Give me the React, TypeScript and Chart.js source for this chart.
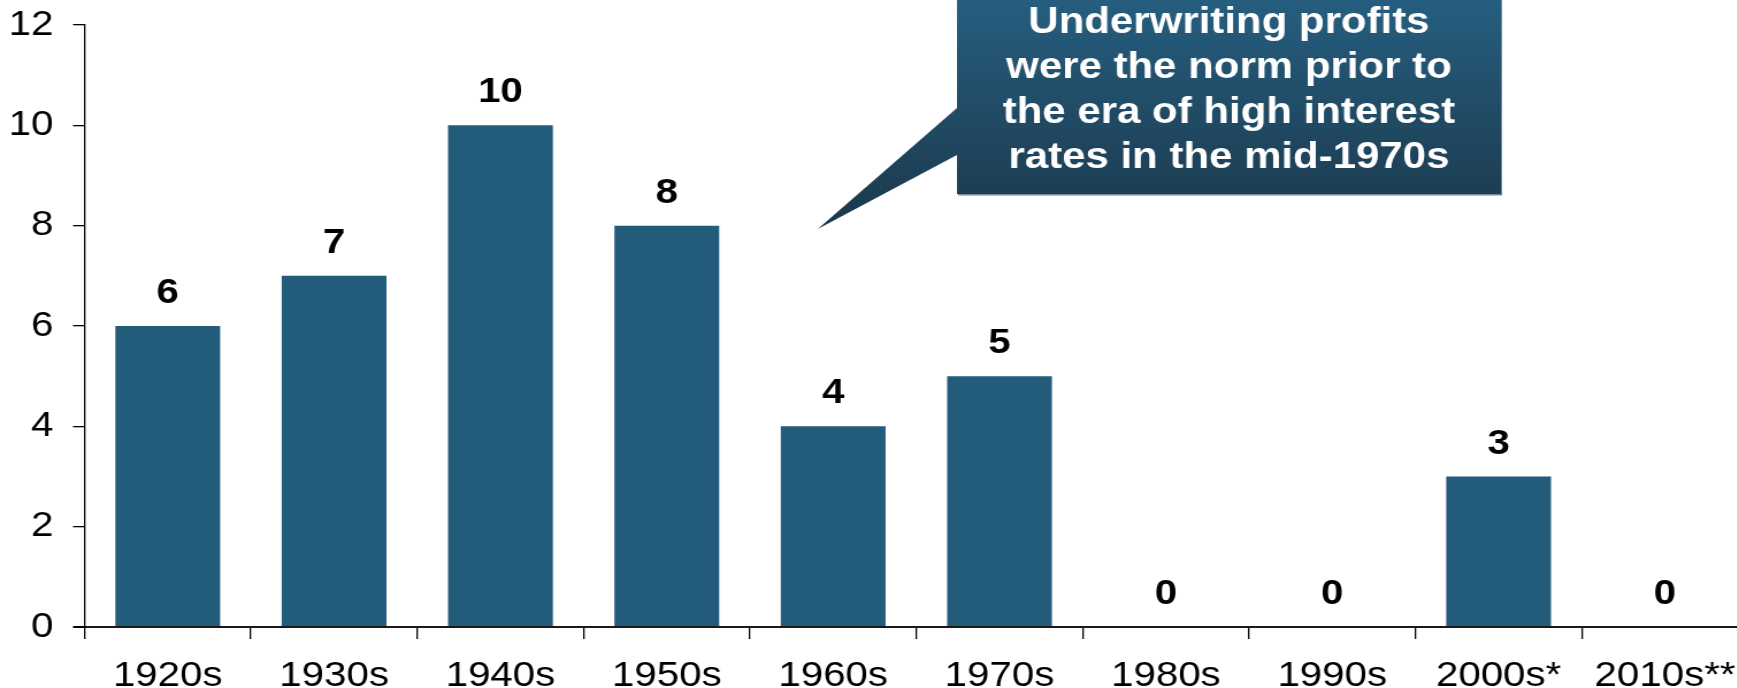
import React, { useEffect, useRef } from "react";
import { Chart, registerables } from "chart.js";

Chart.register(...registerables);

// Decades and the number of years with an underwriting profit in each
const categories = ["1920s", "1930s", "1940s", "1950s", "1960s", "1970s", "1980s", "1990s", "2000s*", "2010s**"];
const profitYears = [6, 7, 10, 8, 4, 5, 0, 0, 3, 0];
const yTickValues = [0, 2, 4, 6, 8, 10, 12];
const calloutLines = [
  "Underwriting profits",
  "were the norm prior to",
  "the era of high interest",
  "rates in the mid-1970s",
];

// The drawing surface is laid out narrower and widened with CSS
const STRETCH = 1.15;
const CANVAS_W = 1525;
const CANVAS_H = 688;
const FONT = '"Liberation Sans", Arial, Helvetica, sans-serif';
const BAR_COLOR = "#235b7a";
const TOP_PAD = 25;
const PLOT_BOTTOM = 627;
const Y_AXIS_WIDTH = 73.5;

// Bold value printed above each bar
const valueLabels = {
  id: "valueLabels",
  afterDatasetsDraw(chart: any) {
    const { ctx } = chart;
    const meta = chart.getDatasetMeta(0);
    const data = chart.data.datasets[0].data as number[];
    ctx.save();
    ctx.font = `bold 35px ${FONT}`;
    ctx.fillStyle = "#000";
    ctx.textAlign = "center";
    ctx.textBaseline = "alphabetic";
    meta.data.forEach((bar: any, i: number) => {
      ctx.fillText(String(data[i]), bar.x, bar.y - 23);
    });
    ctx.restore();
  },
};

// Speech-bubble note pointing at the 1950s/1960s bars
const callout = {
  id: "callout",
  afterDraw(chart: any) {
    const { ctx } = chart;
    const box = { left: 832, right: 1305, top: -4, bottom: 194 };
    const notchTop = 108;
    const notchBottom = 155;
    const tip = { x: 711, y: 229 };

    ctx.save();
    // thin light edge on the right and bottom sides
    ctx.fillStyle = "#6f8a9c";
    ctx.fillRect(box.left + 1, box.top + 1.5, box.right - box.left, box.bottom - box.top);

    const grad = ctx.createLinearGradient(0, 0, 0, tip.y);
    grad.addColorStop(0, "#265e7f");
    grad.addColorStop(1, "#1b384b");
    ctx.beginPath();
    ctx.moveTo(box.left, box.top);
    ctx.lineTo(box.right, box.top);
    ctx.lineTo(box.right, box.bottom);
    ctx.lineTo(box.left, box.bottom);
    ctx.lineTo(box.left, notchBottom);
    ctx.lineTo(tip.x, tip.y);
    ctx.lineTo(box.left, notchTop);
    ctx.closePath();
    ctx.fillStyle = grad;
    ctx.fill();

    ctx.font = `bold 36.5px ${FONT}`;
    ctx.fillStyle = "#ffffff";
    ctx.textAlign = "center";
    ctx.textBaseline = "alphabetic";
    const cx = (box.left + box.right) / 2;
    calloutLines.forEach((line, i) => {
      ctx.fillText(line, cx, 33 + i * 45);
    });
    ctx.restore();
  },
};

export default function App() {
  const canvasRef = useRef<HTMLCanvasElement | null>(null);

  useEffect(() => {
    const canvas = canvasRef.current;
    if (!canvas) return;
    const chart = new Chart(canvas, {
      type: "bar",
      data: {
        labels: categories,
        datasets: [
          {
            data: profitYears,
            backgroundColor: BAR_COLOR,
            borderWidth: 0,
            barPercentage: 0.63,
            categoryPercentage: 1,
          },
        ],
      },
      options: {
        responsive: false,
        animation: false,
        devicePixelRatio: 1,
        layout: { padding: { top: TOP_PAD, right: 2, left: 0, bottom: 0 } },
        plugins: {
          legend: { display: false },
          tooltip: { enabled: false },
        },
        scales: {
          x: {
            type: "category",
            offset: true,
            grid: {
              offset: true,
              drawOnChartArea: false,
              drawTicks: true,
              tickLength: 12,
              color: "#000",
              lineWidth: 1.3,
            },
            border: { display: true, color: "#1a1a1a", width: 2 },
            ticks: {
              color: "#000",
              font: { family: FONT, size: 35 },
              padding: 16,
              maxRotation: 0,
              autoSkip: false,
            },
            afterFit(scale: any) {
              scale.height = CANVAS_H - PLOT_BOTTOM;
            },
          },
          y: {
            min: 0,
            max: 12,
            afterBuildTicks(scale: any) {
              scale.ticks = yTickValues.map((v) => ({ value: v }));
            },
            grid: {
              drawOnChartArea: false,
              tickLength: 10,
              color: "#000",
              lineWidth: (c: any) => (c.tick && c.tick.value === 0 ? 2 : 1.3),
            },
            border: { display: true, color: "#000", width: 1.3 },
            ticks: {
              color: "#000",
              // single-line labels: a small line height keeps the top label from adding extra padding
              font: { family: FONT, size: 35, lineHeight: 0.1 },
              padding: 17,
            },
            afterFit(scale: any) {
              scale.width = Y_AXIS_WIDTH;
            },
          },
        },
      },
      plugins: [valueLabels, callout],
    } as any);
    return () => chart.destroy();
  }, []);

  return (
    <div
      style={{
        position: "fixed",
        left: 0,
        top: 0,
        width: 1737,
        height: 688,
        overflow: "hidden",
        background: "#fff",
      }}
    >
      <canvas
        ref={canvasRef}
        width={CANVAS_W}
        height={CANVAS_H}
        style={{ width: `${CANVAS_W * STRETCH}px`, height: `${CANVAS_H}px`, display: "block" }}
      />
    </div>
  );
}
